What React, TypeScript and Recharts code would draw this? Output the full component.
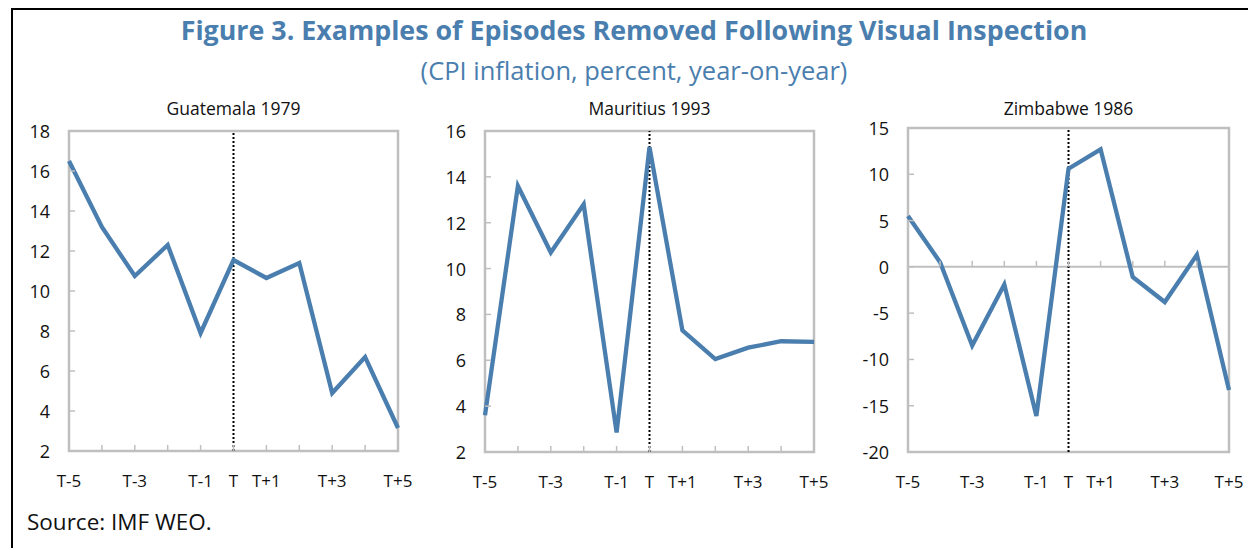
import { LineChart, Line, XAxis, YAxis, ReferenceLine, ReferenceArea } from "recharts";

const periods = ["T-5", "T-4", "T-3", "T-2", "T-1", "T", "T+1", "T+2", "T+3", "T+4", "T+5"];
const labelledPeriods = ["T-5", "T-3", "T-1", "T", "T+1", "T+3", "T+5"];

const guatemala = [16.5, 13.2, 10.75, 12.3, 7.9, 11.55, 10.65, 11.4, 4.9, 6.7, 3.15];
const mauritius = [3.6, 13.6, 10.7, 12.8, 2.85, 15.3, 7.3, 6.05, 6.55, 6.83, 6.8];
const zimbabwe = [5.5, 0.5, -8.5, -1.9, -16.1, 10.6, 12.7, -1.1, -3.8, 1.3, -13.3];
const zimbabweBaseline = [0, 0, 0, 0, 0, 0, 0, 0, 0, 0, 0];

const guatemalaTicks = [2, 4, 6, 8, 10, 12, 14, 16, 18];
const mauritiusTicks = [2, 4, 6, 8, 10, 12, 14, 16];
const zimbabweTicks = [-20, -15, -10, -5, 0, 5, 10, 15];

const BLUE = "#4a7eae";
const GRAY = "#bfbfbf";
const FONT = "'Open Sans', 'Noto Sans', sans-serif";
const CHART_TOP = 108;
const CHART_H = 392;

type PanelProps = {
  title: string;
  values: number[];
  ticks: number[];
  baseline?: number[];
  left: number;
  width: number;
  yWidth: number;
  marginTop: number;
  marginRight: number;
  xHeight: number;
};

function XTick(props: any) {
  const { x, y, payload, inward } = props;
  const label = payload.value as string;
  return (
    <g>
      {inward && <line x1={x} x2={x} y1={y} y2={y - 6} stroke={GRAY} strokeWidth={1.5} />}
      {labelledPeriods.includes(label) && (
        <text x={x} y={y + 29} textAnchor="middle" dominantBaseline="central" fontSize={17} fill="#111" fontFamily={FONT}>
          {label}
        </text>
      )}
    </g>
  );
}

function YTick(props: any) {
  const { x, y, payload } = props;
  return (
    <g>
      <line x1={x} x2={x + 6} y1={y} y2={y} stroke={GRAY} strokeWidth={1.5} />
      <text x={x - 19} y={y} textAnchor="end" dominantBaseline="central" fontSize={18} fill="#111" fontFamily={FONT}>
        {payload.value}
      </text>
    </g>
  );
}

function Panel({ title, values, ticks, baseline, left, width, yWidth, marginTop, marginRight, xHeight }: PanelProps) {
  const data = periods.map((p, i) => ({ p, v: values[i], base: baseline ? baseline[i] : undefined }));
  const lo = ticks[0];
  const hi = ticks[ticks.length - 1];
  const plotCenter = left + yWidth + (width - yWidth - marginRight) / 2;
  return (
    <>
      <div
        style={{
          position: "absolute",
          left: plotCenter - 150,
          width: 300,
          top: 96,
          textAlign: "center",
          fontSize: 17.5,
          color: "#111",
          fontFamily: FONT,
        }}
      >
        {title}
      </div>
      <div style={{ position: "absolute", left, top: CHART_TOP }}>
        <LineChart width={width} height={CHART_H} data={data} margin={{ top: marginTop, right: marginRight, bottom: 0, left: 0 }}>
          <ReferenceArea x1="T-5" x2="T+5" y1={lo} y2={hi} fill="none" stroke={GRAY} strokeWidth={2.5} />
          <XAxis
            dataKey="p"
            interval={0}
            height={xHeight}
            padding={{ left: 0, right: 0 }}
            axisLine={false}
            tickLine={false}
            tickSize={0}
            tickMargin={0}
            tick={<XTick inward={!baseline} />}
          />
          <YAxis
            width={yWidth}
            domain={[lo, hi]}
            ticks={ticks}
            interval={0}
            axisLine={false}
            tickLine={false}
            tickSize={0}
            tickMargin={0}
            tick={<YTick />}
          />
          {baseline && (
            <Line
              dataKey="base"
              stroke={GRAY}
              strokeWidth={2}
              isAnimationActive={false}
              dot={(d: any) => (
                <line key={`b${d.index}`} x1={d.cx} x2={d.cx} y1={d.cy} y2={d.cy - 6} stroke={GRAY} strokeWidth={1.5} />
              )}
              activeDot={false}
            />
          )}
          <ReferenceLine x="T" stroke="#000" strokeWidth={2} strokeDasharray="2 2" />
          <Line type="linear" dataKey="v" stroke={BLUE} strokeWidth={4.3} dot={false} activeDot={false} isAnimationActive={false} />
        </LineChart>
      </div>
    </>
  );
}

export default function App() {
  return (
    <div style={{ position: "absolute", left: 0, top: 0, width: 1248, height: 548, background: "#fff", overflow: "hidden", fontFamily: FONT }}>
      <div
        style={{
          position: "absolute",
          left: 11,
          top: 8,
          width: 1260,
          height: 560,
          borderLeft: "2.5px solid #000",
          borderTop: "2.5px solid #000",
        }}
      />
      <div style={{ position: "absolute", left: 20, width: 1228, top: 11, textAlign: "center", color: BLUE, fontSize: 26.8, fontWeight: 700 }}>
        Figure 3. Examples of Episodes Removed Following Visual Inspection
      </div>
      <div style={{ position: "absolute", left: 20, width: 1228, top: 53, textAlign: "center", color: BLUE, fontSize: 25.5 }}>
        (CPI inflation, percent, year-on-year)
      </div>
      <Panel title="Guatemala 1979" values={guatemala} ticks={guatemalaTicks} left={10} width={412} yWidth={59} marginTop={23} marginRight={24} xHeight={49} />
      <Panel title="Mauritius 1993" values={mauritius} ticks={mauritiusTicks} left={425} width={413} yWidth={60} marginTop={23} marginRight={24} xHeight={48} />
      <Panel
        title="Zimbabwe 1986"
        values={zimbabwe}
        ticks={zimbabweTicks}
        baseline={zimbabweBaseline}
        left={840}
        width={408}
        yWidth={68}
        marginTop={20}
        marginRight={19}
        xHeight={48}
      />
      <div style={{ position: "absolute", left: 27, top: 506, fontSize: 22.5, color: "#111" }}>Source: IMF WEO.</div>
    </div>
  );
}
